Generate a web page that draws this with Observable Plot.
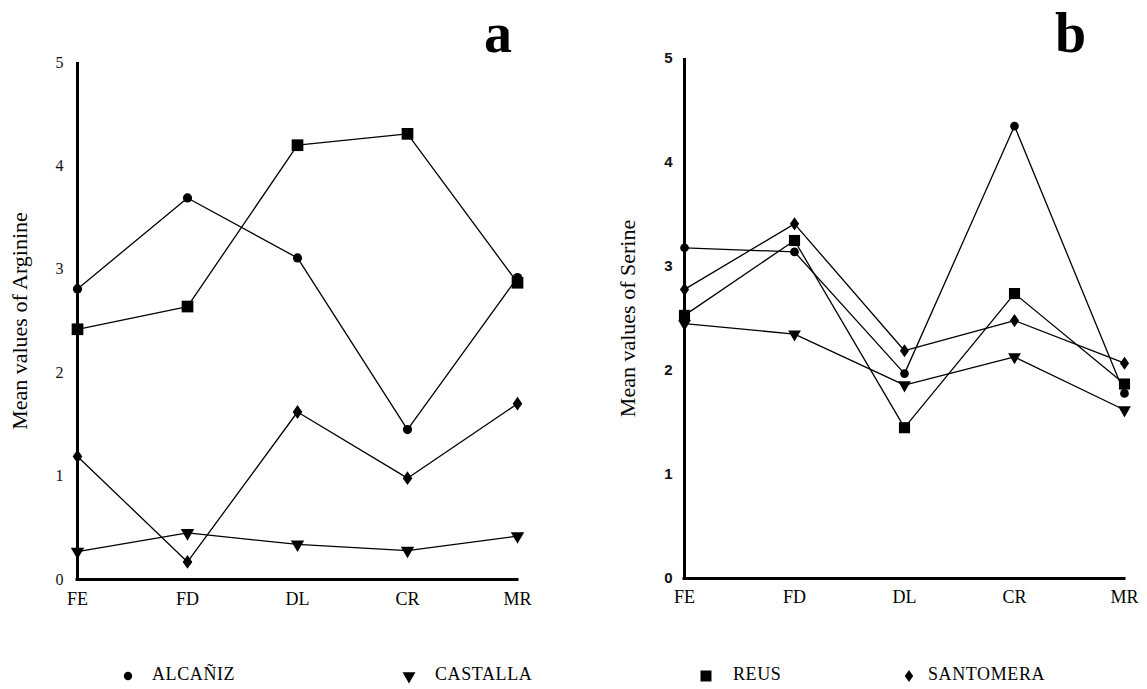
<!DOCTYPE html>
<html>
<head>
<meta charset="utf-8">
<script src="https://cdn.jsdelivr.net/npm/d3@7"></script>
<script src="https://cdn.jsdelivr.net/npm/@observablehq/plot@0.6"></script>
<style>
  html, body { margin: 0; padding: 0; background: #fff; }
  #root { position: relative; width: 1147px; height: 689px; overflow: hidden; background: #fff; }
  .panel { position: absolute; top: 0; }
  .title { position: absolute; font-family: "Liberation Serif", serif; font-weight: bold; font-size: 56px; line-height: 1; color: #000; }
  .leg { position: absolute; font-family: "Liberation Serif", serif; font-size: 18px; letter-spacing: 0.6px; color: #000; white-space: nowrap; }
  .legsym { position: absolute; }
</style>
</head>
<body>
<div id="root"></div>
<script>
// ---- data ----
const categories = ["FE", "FD", "DL", "CR", "MR"];
const seriesNames = ["ALCAÑIZ", "CASTALLA", "REUS", "SANTOMERA"];
const yTicks = [0, 1, 2, 3, 4, 5];

// Panel a: Arginine
const arginineAlcaniz   = [2.81, 3.69, 3.11, 1.45, 2.92];
const arginineCastalla  = [0.27, 0.45, 0.34, 0.28, 0.42];
const arginineReus      = [2.42, 2.64, 4.20, 4.31, 2.87];
const arginineSantomera = [1.19, 0.17, 1.62, 0.98, 1.70];

// Panel b: Serine
const serineAlcaniz   = [3.18, 3.14, 1.97, 4.35, 1.78];
const serineCastalla  = [2.45, 2.35, 1.86, 2.13, 1.62];
const serineReus      = [2.53, 3.25, 1.45, 2.74, 1.87];
const serineSantomera = [2.78, 3.41, 2.19, 2.48, 2.07];

const panelLabels = ["a", "b"];
const yLabels = ["Mean values of Arginine", "Mean values of Serine"];

// wider diamond symbol (half-width = 0.7 * half-height)
const wideDiamond = {
  draw(context, size) {
    const h = Math.sqrt(size / 1.4), w = 0.7 * h;
    context.moveTo(0, -h); context.lineTo(w, 0); context.lineTo(0, h); context.lineTo(-w, 0); context.closePath();
  }
};

// ---- styles per series ----
const symbolStyle = {
  "ALCAÑIZ":   {symbol: d3.symbolCircle,   r: 4.6, rotate: 0},
  "CASTALLA":  {symbol: d3.symbolTriangle, r: 5.0, rotate: 180},
  "REUS":      {symbol: d3.symbolSquare,   r: 6.6, rotate: 0},
  "SANTOMERA": {symbol: wideDiamond,       r: 4.6, rotate: 0}
};

function toRows(arrays) {
  const rows = [];
  seriesNames.forEach((s, i) => categories.forEach((c, j) => rows.push({series: s, cat: c, v: arrays[i][j]})));
  return rows;
}

function panel(arrays, cfg) {
  const rows = toRows(arrays);
  const marks = [
    Plot.ruleX([categories[0]], {y1: 0, y2: 5, stroke: "#000", strokeWidth: 3}),
    Plot.ruleY([0], {x1: () => categories[0], x2: () => categories[categories.length - 1], stroke: "#000", strokeWidth: 3, strokeLinecap: "square"}),
    Plot.axisY(yTicks, {tickSize: 0, tickPadding: cfg.yPad, tickFormat: d => String(d), fontSize: cfg.yFontSize, fontFamily: cfg.yFont, fontWeight: cfg.yWeight, fill: "#111", label: null}),
    Plot.axisX(categories, {tickSize: 0, tickPadding: cfg.xPad, fontSize: 18, fontFamily: "Liberation Serif", fill: "#000", label: null}),
    Plot.text([cfg.yLabel], {frameAnchor: "left", text: d => d, textAnchor: "middle", rotate: -90, dx: -cfg.labelOffset, fontSize: 22, fontFamily: "Liberation Serif", fill: "#000"}),
    Plot.line(rows, {x: "cat", y: "v", z: "series", stroke: "#000", strokeWidth: 1.3})
  ];
  for (const s of seriesNames) {
    const st = symbolStyle[s];
    marks.push(Plot.dot(rows.filter(d => d.series === s), {x: "cat", y: "v", symbol: st.symbol, r: st.r * cfg.symScale, rotate: st.rotate, fill: "#000", stroke: "none"}));
  }
  return Plot.plot({
    width: cfg.width, height: 620,
    marginLeft: cfg.marginLeft, marginRight: cfg.marginRight,
    marginTop: cfg.marginTop, marginBottom: 620 - cfg.zeroY,
    x: {type: "point", domain: categories, padding: 0, axis: null},
    y: {domain: [0, 5], axis: null},
    style: {background: "transparent", overflow: "visible"},
    marks
  });
}

const root = document.getElementById("root");

const left = panel([arginineAlcaniz, arginineCastalla, arginineReus, arginineSantomera], {
  width: 573, marginLeft: 75, marginRight: 55, marginTop: 62, zeroY: 579,
  yPad: 12, yFontSize: 16, yFont: "Liberation Serif", yWeight: "normal",
  xPad: 13, yLabel: yLabels[0], labelOffset: 56, symScale: 1
});
left.classList.add("panel");
left.style.left = "0px";
root.appendChild(left);

const right = panel([serineAlcaniz, serineCastalla, serineReus, serineSantomera], {
  width: 574, marginLeft: 110, marginRight: 22, marginTop: 58, zeroY: 578,
  yPad: 11, yFontSize: 15, yFont: "Liberation Sans", yWeight: "bold",
  xPad: 12, yLabel: yLabels[1], labelOffset: 56, symScale: 0.95
});
right.classList.add("panel");
right.style.left = "573px";
root.appendChild(right);

// panel titles
[[panelLabels[0], 484], [panelLabels[1], 1055]].forEach(([t, x]) => {
  const d = document.createElement("div");
  d.className = "title";
  d.textContent = t;
  d.style.left = x + "px";
  d.style.top = "5px";
  root.appendChild(d);
});

// legend
const legendPos = [[128, 152], [409, 435], [706, 733], [909, 928]];
seriesNames.forEach((s, i) => {
  const st = symbolStyle[s];
  const [sx, tx] = legendPos[i];
  const svg = d3.create("svg").attr("width", 20).attr("height", 20).attr("class", "legsym")
    .style("left", (sx - 10) + "px").style("top", (676 - 10) + "px");
  const rr = st.symbol === d3.symbolCircle ? 4.2 : st.symbol === d3.symbolSquare ? 6.2 : st.symbol === wideDiamond ? 4.0 : 4.8;
  svg.append("path").attr("d", d3.symbol(st.symbol, Math.PI * rr * rr)()).attr("transform", `translate(10,10) rotate(${st.rotate})`).attr("fill", "#000");
  root.appendChild(svg.node());
  const t = document.createElement("div");
  t.className = "leg";
  t.textContent = s;
  t.style.left = tx + "px";
  t.style.top = "664px";
  root.appendChild(t);
});
</script>
</body>
</html>
